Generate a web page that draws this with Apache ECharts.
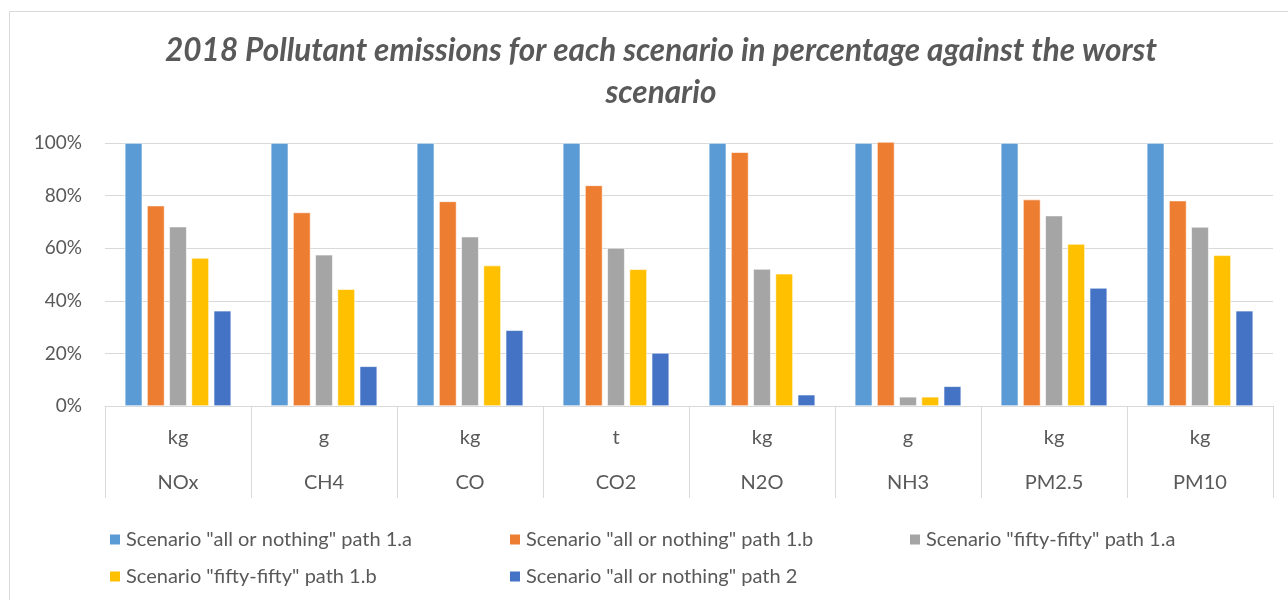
<!DOCTYPE html>
<html>
<head>
<meta charset="utf-8">
<script src="https://cdn.jsdelivr.net/npm/echarts@6/dist/echarts.min.js"></script>
<style>html,body{margin:0;padding:0;background:#fff}#c{width:1288px;height:600px}</style>
</head>
<body>
<div id="c"></div>
<script>
const pollutants = ['NOx', 'CH4', 'CO', 'CO2', 'N2O', 'NH3', 'PM2.5', 'PM10'];
const units = ['kg', 'g', 'kg', 't', 'kg', 'g', 'kg', 'kg'];
const seriesNames = [
  'Scenario "all or nothing" path 1.a',
  'Scenario "all or nothing" path 1.b',
  'Scenario "fifty-fifty" path 1.a',
  'Scenario "fifty-fifty" path 1.b',
  'Scenario "all or nothing" path 2'
];
const allOrNothing1a = [100, 100, 100, 100, 100, 100, 100, 100];
const allOrNothing1b = [76.2, 73.6, 77.8, 83.9, 96.5, 100.4, 78.5, 78.1];
const fiftyFifty1a   = [68.2, 57.5, 64.4, 60.1, 52.1, 3.5, 72.4, 68.1];
const fiftyFifty1b   = [56.3, 44.4, 53.4, 52.0, 50.3, 3.5, 61.6, 57.3];
const allOrNothing2  = [36.2, 15.1, 28.8, 20.2, 4.3, 7.5, 44.9, 36.2];
const yTicks = [0, 20, 40, 60, 80, 100];

const colors = ['#5B9BD5', '#ED7D31', '#A5A5A5', '#FFC000', '#4472C4'];
const seriesData = [allOrNothing1a, allOrNothing1b, fiftyFifty1a, fiftyFifty1b, allOrNothing2];
const FONT = 'Lato, "Open Sans", sans-serif';
const GRAY = '#595959';
const LINE = '#d9d9d9';

const chart = echarts.init(document.getElementById('c'), null, {renderer: 'canvas'});
chart.setOption({
  animation: false,
  color: colors,
  title: {
    text: '2018 Pollutant emissions for each scenario in percentage against the worst\nscenario',
    left: 656,
    top: 25,
    textAlign: 'center',
    textStyle: {
      fontFamily: FONT, fontSize: 31.5, fontWeight: 'bold', fontStyle: 'italic',
      color: GRAY, lineHeight: 42
    }
  },
  graphic: [{
    type: 'rect',
    shape: {x: 9.5, y: 11.5, width: 1300, height: 620},
    style: {fill: 'none', stroke: LINE, lineWidth: 1},
    silent: true, z: -10
  }],
  grid: {left: 105, right: 15, top: 143, bottom: 194, containLabel: false},
  legend: {
    data: seriesNames,
    left: 108,
    top: 529,
    padding: 0,
    width: 1210,
    itemWidth: 12,
    itemHeight: 12,
    itemGap: 16,
    icon: 'rect',
    textStyle: {fontFamily: FONT, fontSize: 20, color: GRAY, width: 366, lineHeight: 21}
  },
  xAxis: [{
    type: 'category',
    data: units,
    position: 'bottom',
    axisLine: {show: true, lineStyle: {color: LINE, width: 1}},
    axisTick: {show: true, length: 92, interval: 0, lineStyle: {color: LINE, width: 1}},
    axisLabel: {interval: 0, margin: 22, fontFamily: FONT, fontSize: 20, color: GRAY}
  }, {
    type: 'category',
    data: pollutants,
    position: 'bottom',
    axisLine: {show: false},
    axisTick: {show: false},
    axisLabel: {interval: 0, margin: 67, fontFamily: FONT, fontSize: 20, color: GRAY}
  }],
  yAxis: {
    type: 'value',
    min: yTicks[0],
    max: yTicks[yTicks.length - 1],
    interval: yTicks[1] - yTicks[0],
    axisLine: {show: false},
    axisTick: {show: false},
    splitLine: {lineStyle: {color: LINE, width: 1}},
    axisLabel: {formatter: '{value}%', fontFamily: FONT, fontSize: 19, color: GRAY, margin: 23}
  },
  series: seriesNames.map((name, i) => ({
    name: name,
    type: 'bar',
    xAxisIndex: 0,
    data: seriesData[i],
    barWidth: 17.5,
    barGap: '27%',
    clip: false,
    itemStyle: {color: colors[i], borderColor: '#ffffff', borderWidth: 0.6}
  }))
});
</script>
</body>
</html>
